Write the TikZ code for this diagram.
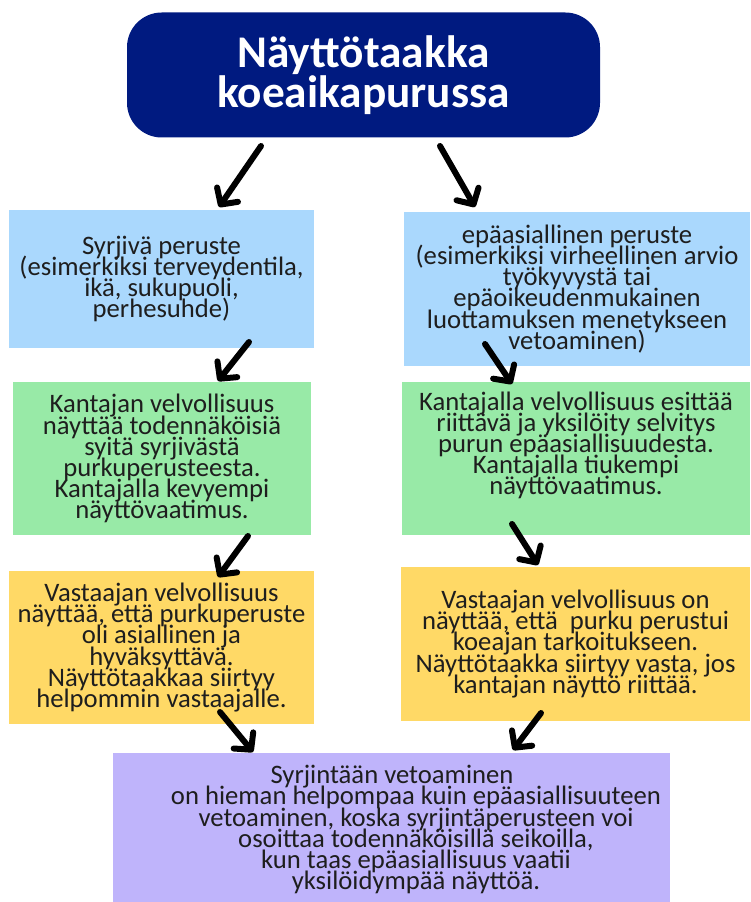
\documentclass[tikz,border=0pt]{standalone}
\usepackage{fontspec}
\setmainfont{Carlito}
\usetikzlibrary{arrows.meta}
\definecolor{titlec}{RGB}{0,26,128}
\definecolor{bluec}{RGB}{170,216,253}
\definecolor{greenc}{RGB}{152,234,167}
\definecolor{yellowc}{RGB}{255,217,102}
\definecolor{purplec}{RGB}{191,180,251}
\definecolor{txtc}{RGB}{30,30,30}
\newcommand\myboxfont{\fontsize{20}{15.8}\selectfont\lineskiplimit=-100pt\relax\lineskip=0pt\relax}
\newcommand\mytitlefont{\bfseries\fontsize{34}{30.5}\selectfont\lineskiplimit=-100pt\relax\lineskip=0pt\relax}
\tikzset{
  boxc/.style={rectangle, inner sep=0pt, align=center, text=txtc, font=\myboxfont},
  titlebox/.style={rectangle, rounded corners=26pt, fill=titlec, text=white,
    inner sep=0pt, align=center, font=\mytitlefont},
  arr/.style={line width=4.5pt, line cap=round, line join=round,
    -{Straight Barb[length=9pt,width=19pt,round]}}
}
\begin{document}
\begin{tikzpicture}[x=0.75pt,y=-0.75pt]
\useasboundingbox (0,0) rectangle (750,902);
\node[titlebox, minimum width=473*0.75pt, minimum height=125*0.75pt] (title) at (363.5,75)
  {Näyttötaakka\\koeaikapurussa};
\node[boxc, fill=bluec, minimum width=305*0.75pt, minimum height=138*0.75pt] (blueL) at (161.5,279)
  {Syrjivä peruste\\(esimerkiksi terveydentila,\\ikä, sukupuoli,\\perhesuhde)};
\node[boxc, fill=bluec, minimum width=346*0.75pt, minimum height=154*0.75pt] (blueR) at (577,289)
  {epäasiallinen peruste\\(esimerkiksi virheellinen arvio\\työkyvystä tai\\epäoikeudenmukainen\\luottamuksen menetykseen\\vetoaminen)};
\node[boxc, fill=greenc, minimum width=298*0.75pt, minimum height=153*0.75pt] (greenL) at (162,458.5)
  {Kantajan velvollisuus\\näyttää todennäköisiä\\syitä syrjivästä\\purkuperusteesta.\\Kantajalla kevyempi\\näyttövaatimus.};
\node[boxc, fill=greenc, minimum width=348*0.75pt, minimum height=153*0.75pt, text depth=23pt] (greenR) at (576,458.5)
  {Kantajalla velvollisuus esittää\\riittävä ja yksilöity selvitys\\purun epäasiallisuudesta.\\Kantajalla tiukempi\\näyttövaatimus.};
\node[boxc, fill=yellowc, minimum width=305*0.75pt, minimum height=153*0.75pt] (yellowL) at (161.5,647.5)
  {Vastaajan velvollisuus\\näyttää, että purkuperuste\\oli asiallinen ja\\hyväksyttävä.\\Näyttötaakkaa siirtyy\\helpommin vastaajalle.};
\node[boxc, fill=yellowc, minimum width=349*0.75pt, minimum height=154*0.75pt] (yellowR) at (575.5,644)
  {Vastaajan velvollisuus on\\näyttää, että\ \ purku perustui\\koeajan tarkoitukseen.\\Näyttötaakka siirtyy vasta, jos\\kantajan näyttö riittää.};
\node[boxc, fill=purplec, minimum width=557*0.75pt, minimum height=149*0.75pt] (purple) at (391.5,827.5) {};
\node[boxc] (ptext) at (416,829.5)
  {Syrjintään vetoaminen\hspace*{36pt}\\on hieman helpompaa kuin epäasiallisuuteen\\vetoaminen, koska syrjintäperusteen voi\\osoittaa todennäköisillä seikoilla,\\kun taas epäasiallisuus vaatii\\yksilöidympää näyttöä.};
\coordinate (a1s) at (261,146); \coordinate (a1e) at (219,207);
\coordinate (a2s) at (440,146); \coordinate (a2e) at (475,207);
\coordinate (a3s) at (249,342); \coordinate (a3e) at (218,381);
\coordinate (a4s) at (485,344); \coordinate (a4e) at (512,384);
\coordinate (a5s) at (248,536); \coordinate (a5e) at (218,577);
\coordinate (a6s) at (512,524); \coordinate (a6e) at (538,565);
\coordinate (a7s) at (220,712); \coordinate (a7e) at (253,752);
\coordinate (a8s) at (541,713); \coordinate (a8e) at (513,750);
\draw[arr] (a1s) -- (a1e);
\draw[arr] (a2s) -- (a2e);
\draw[arr] (a3s) -- (a3e);
\draw[arr] (a4s) -- (a4e);
\draw[arr] (a5s) -- (a5e);
\draw[arr] (a6s) -- (a6e);
\draw[arr] (a7s) -- (a7e);
\draw[arr] (a8s) -- (a8e);
\end{tikzpicture}
\end{document}
